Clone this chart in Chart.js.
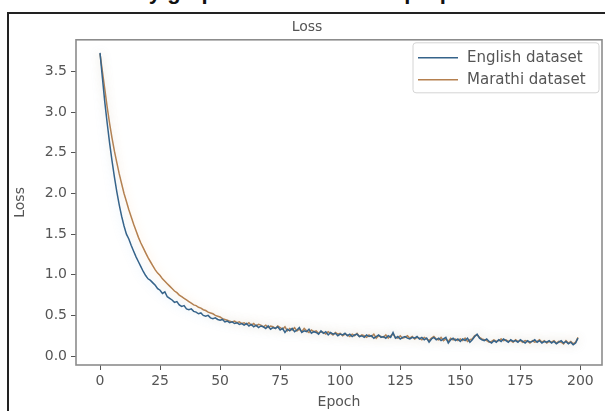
<!DOCTYPE html>
<html>
<head>
<meta charset="utf-8">
<script src="https://cdn.jsdelivr.net/npm/chart.js@4.4.1/dist/chart.umd.min.js"></script>
<style>
  html, body { margin: 0; padding: 0; background: #fff; }
  body { width: 605px; height: 411px; position: relative; overflow: hidden; }
  #caption { position: absolute; left: 0; top: 0; width: 605px; height: 8px; overflow: hidden; }
  #caption span { position: absolute; left: 62px; top: -21px; font: bold 22px "Liberation Sans", Arial, sans-serif; color: #111; white-space: nowrap; }
  #frame { position: absolute; left: 7px; top: 12px; width: 620px; height: 420px; border: 2px solid #222; }
  #wrap { position: absolute; left: 0; top: 0; width: 605px; height: 411px; }
</style>
</head>
<body>
<div id="caption"><span>Accuracy graph and loss for the proposed model</span></div>
<div id="frame"></div>
<div id="wrap"><canvas id="lossChart"></canvas></div>
<script>
const seriesNames = ['English dataset', 'Marathi dataset'];
const xTicks = [0, 25, 50, 75, 100, 125, 150, 175, 200];
const yTicks = [0.0, 0.5, 1.0, 1.5, 2.0, 2.5, 3.0, 3.5];

const englishLoss = [
  3.73, 3.42, 3.12, 2.86, 2.62, 2.40, 2.20, 2.02, 1.86, 1.72,
  1.60, 1.50, 1.44, 1.36, 1.29, 1.22, 1.16, 1.10, 1.04, 0.99,
  0.95, 0.93, 0.90, 0.87, 0.83, 0.81, 0.77, 0.79, 0.73, 0.71,
  0.69, 0.66, 0.67, 0.63, 0.61, 0.62, 0.58, 0.57, 0.58, 0.55,
  0.54, 0.52, 0.53, 0.50, 0.49, 0.50, 0.47, 0.46, 0.47, 0.45,
  0.44, 0.45, 0.42, 0.43, 0.41, 0.42, 0.40, 0.41, 0.39, 0.40,
  0.38, 0.40, 0.37, 0.39, 0.36, 0.38, 0.35, 0.37, 0.36, 0.34,
  0.37, 0.33, 0.35, 0.34, 0.36, 0.32, 0.34, 0.29, 0.33, 0.31,
  0.34, 0.30, 0.32, 0.35, 0.29, 0.31, 0.30, 0.33, 0.28, 0.30,
  0.29, 0.27, 0.31, 0.28, 0.30, 0.26, 0.29, 0.27, 0.28, 0.25,
  0.27, 0.26, 0.28, 0.25, 0.27, 0.24, 0.26, 0.27, 0.24, 0.25,
  0.23, 0.26, 0.24, 0.25, 0.22, 0.24, 0.26, 0.23, 0.24, 0.22,
  0.25, 0.23, 0.29, 0.22, 0.24, 0.21, 0.23, 0.24, 0.22, 0.21,
  0.23, 0.22, 0.24, 0.21, 0.23, 0.20, 0.22, 0.17, 0.21, 0.23,
  0.20, 0.22, 0.19, 0.21, 0.23, 0.16, 0.20, 0.22, 0.19, 0.21,
  0.18, 0.21, 0.19, 0.22, 0.17, 0.20, 0.24, 0.27, 0.22, 0.20,
  0.19, 0.21, 0.18, 0.16, 0.19, 0.17, 0.20, 0.18, 0.21, 0.19,
  0.17, 0.20, 0.18, 0.19, 0.17, 0.20, 0.18, 0.16, 0.19, 0.17,
  0.18, 0.20, 0.17, 0.19, 0.16, 0.18, 0.17, 0.19, 0.16, 0.18,
  0.15, 0.17, 0.19, 0.16, 0.18, 0.15, 0.17, 0.14, 0.16, 0.22
];

const marathiLoss = [
  3.72, 3.50, 3.28, 3.06, 2.86, 2.68, 2.52, 2.38, 2.24, 2.12,
  2.00, 1.90, 1.80, 1.71, 1.62, 1.54, 1.46, 1.39, 1.33, 1.27,
  1.21, 1.16, 1.11, 1.06, 1.02, 0.99, 0.95, 0.92, 0.89, 0.86,
  0.83, 0.80, 0.78, 0.75, 0.73, 0.71, 0.69, 0.67, 0.65, 0.63,
  0.62, 0.60, 0.59, 0.57, 0.56, 0.54, 0.53, 0.52, 0.50, 0.49,
  0.48, 0.46, 0.45, 0.44, 0.43, 0.42, 0.43, 0.41, 0.42, 0.40,
  0.41, 0.39, 0.41, 0.38, 0.40, 0.37, 0.39, 0.38, 0.36, 0.38,
  0.35, 0.37, 0.36, 0.34, 0.37, 0.35, 0.33, 0.36, 0.31, 0.34,
  0.32, 0.35, 0.31, 0.33, 0.30, 0.34, 0.31, 0.29, 0.32, 0.30,
  0.31, 0.28, 0.30, 0.29, 0.27, 0.30, 0.28, 0.26, 0.29, 0.27,
  0.28, 0.25, 0.27, 0.26, 0.24, 0.27, 0.25, 0.28, 0.24, 0.26,
  0.25, 0.23, 0.26, 0.24, 0.27, 0.22, 0.25, 0.24, 0.23, 0.26,
  0.22, 0.25, 0.27, 0.23, 0.22, 0.25, 0.22, 0.23, 0.25, 0.22,
  0.24, 0.21, 0.23, 0.22, 0.20, 0.23, 0.21, 0.19, 0.22, 0.24,
  0.21, 0.20, 0.23, 0.19, 0.21, 0.18, 0.22, 0.20, 0.21, 0.19,
  0.21, 0.19, 0.22, 0.18, 0.20, 0.21, 0.25, 0.26, 0.23, 0.21,
  0.20, 0.19, 0.17, 0.18, 0.20, 0.18, 0.19, 0.21, 0.19, 0.20,
  0.18, 0.19, 0.17, 0.20, 0.18, 0.19, 0.17, 0.19, 0.18, 0.16,
  0.19, 0.17, 0.18, 0.20, 0.17, 0.19, 0.16, 0.18, 0.17, 0.19,
  0.16, 0.18, 0.17, 0.15, 0.19, 0.16, 0.18, 0.15, 0.17, 0.23
];

const epochs = englishLoss.map((_, i) => i);

const lineColors = ['#35638a', '#b5804f'];
const glowColors = ['rgba(120,180,230,0.35)', 'rgba(255,190,120,0.45)'];

// matplotlib style: box around the plot area + legend inside upper right
const mplFrame = {
  id: 'mplFrame',
  beforeDatasetDraw(chart, args) {
    const ctx = chart.ctx;
    ctx.save();
    ctx.shadowColor = glowColors[args.index];
    ctx.shadowBlur = 10;
  },
  afterDatasetDraw(chart) {
    chart.ctx.restore();
  },
  afterDraw(chart) {
    const { ctx, chartArea: a } = chart;
    ctx.save();
    ctx.strokeStyle = '#8c8c8c';
    ctx.lineWidth = 1.6;
    ctx.strokeRect(a.left, a.top, a.right - a.left, a.bottom - a.top);

    // legend
    const boxL = a.right - 189, boxT = a.top + 3, boxW = 186, boxH = 50;
    ctx.fillStyle = 'rgba(255,255,255,0.85)';
    ctx.strokeStyle = '#d4d4d4';
    ctx.lineWidth = 1;
    ctx.beginPath();
    ctx.roundRect(boxL, boxT, boxW, boxH, 3);
    ctx.fill();
    ctx.stroke();
    ctx.font = '15px "DejaVu Sans"';
    ctx.textBaseline = 'middle';
    chart.data.datasets.forEach((ds, i) => {
      const y = boxT + 15 + i * 22;
      ctx.strokeStyle = ds.borderColor;
      ctx.lineWidth = 1.6;
      ctx.beginPath();
      ctx.moveTo(boxL + 5, y);
      ctx.lineTo(boxL + 45, y);
      ctx.stroke();
      ctx.fillStyle = '#555';
      ctx.fillText(ds.label, boxL + 54, y);
    });
    ctx.restore();
  }
};

const ctx = document.getElementById('lossChart').getContext('2d');
new Chart(ctx, {
  type: 'line',
  data: {
    datasets: [
      {
        label: seriesNames[0],
        data: englishLoss.map((v, i) => ({ x: epochs[i], y: v })),
        borderColor: lineColors[0],
        borderWidth: 1.5,
        pointRadius: 0,
        tension: 0
      },
      {
        label: seriesNames[1],
        data: marathiLoss.map((v, i) => ({ x: epochs[i], y: v })),
        borderColor: lineColors[1],
        borderWidth: 1.5,
        pointRadius: 0,
        tension: 0
      }
    ]
  },
  options: {
    responsive: true,
    maintainAspectRatio: false,
    animation: false,
    layout: { padding: { left: 12, right: 3, top: 0, bottom: 0 } },
    plugins: {
      legend: { display: false },
      tooltip: { enabled: false },
      title: {
        display: true,
        text: 'Loss',
        color: '#555',
        font: { family: 'DejaVu Sans', size: 14, weight: 'normal' },
        padding: { top: 19, bottom: 4 }
      }
    },
    scales: {
      x: {
        type: 'linear',
        min: -10,
        max: 209,
        afterBuildTicks: s => { s.ticks = xTicks.map(v => ({ value: v })); },
        afterFit: s => { s.height = 46; },
        grid: { display: true, drawOnChartArea: false, drawTicks: true, tickLength: 5, color: '#555' },
        border: { display: false },
        ticks: {
          color: '#555',
          font: { family: 'DejaVu Sans', size: 14 },
          padding: 3,
          maxRotation: 0,
          callback: v => String(v)
        },
        title: {
          display: true,
          text: 'Epoch',
          color: '#555',
          font: { family: 'DejaVu Sans', size: 14 },
          padding: { top: 0, bottom: 0 }
        }
      },
      y: {
        min: -0.11,
        max: 3.89,
        afterBuildTicks: s => { s.ticks = yTicks.map(v => ({ value: v })); },
        afterFit: s => { s.width = 64; },
        grid: { display: true, drawOnChartArea: false, drawTicks: true, tickLength: 5, color: '#555' },
        border: { display: false },
        ticks: {
          color: '#555',
          font: { family: 'DejaVu Sans', size: 14 },
          padding: 4,
          callback: v => Number(v).toFixed(1)
        },
        title: {
          display: true,
          text: 'Loss',
          color: '#555',
          font: { family: 'DejaVu Sans', size: 14 },
          padding: { top: 0, bottom: 3 }
        }
      }
    }
  },
  plugins: [mplFrame]
});
</script>
</body>
</html>
